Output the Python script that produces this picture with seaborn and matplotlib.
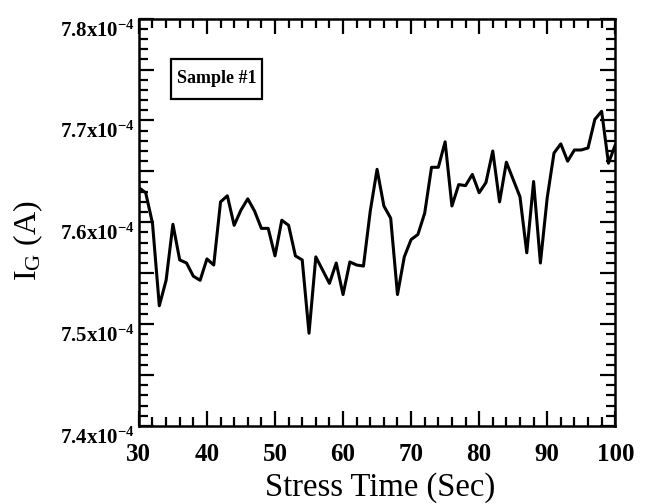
import numpy as np
import pandas as pd
import matplotlib
matplotlib.use("Agg")
import matplotlib.pyplot as plt
import matplotlib.transforms as mtransforms
from matplotlib.ticker import MultipleLocator, FuncFormatter
from matplotlib.patches import Rectangle
import seaborn as sns

# ---- data (current in units of 1e-4 A) ----
stress_time = list(range(30, 101))
current_e4 = [
    7.634, 7.629, 7.599, 7.518, 7.543, 7.598, 7.563, 7.560, 7.547, 7.543,
    7.564, 7.558, 7.620, 7.626, 7.597, 7.612, 7.623, 7.611, 7.594, 7.594,
    7.567, 7.602, 7.597, 7.567, 7.563, 7.491, 7.566, 7.553, 7.540, 7.560,
    7.529, 7.561, 7.558, 7.557, 7.611, 7.652, 7.616, 7.604, 7.529, 7.566,
    7.583, 7.588, 7.609, 7.654, 7.654, 7.679, 7.616, 7.637, 7.636, 7.647,
    7.629, 7.639, 7.670, 7.620, 7.659, 7.642, 7.625, 7.570, 7.640, 7.560,
    7.624, 7.668, 7.677, 7.660, 7.671, 7.671, 7.673, 7.701, 7.709, 7.658,
    7.676,
]
x_ticks = [30, 40, 50, 60, 70, 80, 90, 100]
y_labels_at = [7.4, 7.5, 7.6, 7.7, 7.8]
sample_label = "Sample #1"

df = pd.DataFrame({"t": stress_time, "i": current_e4})

sns.set_style("ticks")
plt.rcParams["font.family"] = ["Liberation Serif", "DejaVu Serif"]
plt.rcParams["mathtext.fontset"] = "custom"
plt.rcParams["mathtext.rm"] = "Liberation Serif:bold"
plt.rcParams["mathtext.it"] = "Liberation Serif:italic"
plt.rcParams["mathtext.bf"] = "Liberation Serif:bold"

fig = plt.figure(figsize=(6.49, 5.04), dpi=100)
ax = fig.add_axes([0.214, 0.155, 0.734, 0.808])

sns.lineplot(data=df, x="t", y="i", ax=ax, color="black", linewidth=2.2)

ax.set_xlim(30, 100)
ax.set_ylim(7.4, 7.8)
ax.set_xticks(x_ticks)
ax.xaxis.set_minor_locator(MultipleLocator(2))
ax.yaxis.set_major_locator(MultipleLocator(0.05))
ax.yaxis.set_minor_locator(MultipleLocator(0.01))


def yfmt(v, pos):
    for lv in y_labels_at:
        if abs(v - lv) < 1e-6:
            return r"%.1fx10$^{-4}$" % lv
    return ""


ax.yaxis.set_major_formatter(FuncFormatter(yfmt))

for s in ax.spines.values():
    s.set_linewidth(1.8)
    s.set_color("black")

ax.tick_params(which="both", direction="in", top=True, right=True,
               color="black", width=1.6)
ax.tick_params(which="major", length=11)
ax.tick_params(which="minor", length=6.5)
ax.tick_params(axis="x", which="major", pad=12, labelsize=18)
ax.tick_params(axis="y", which="major", pad=3, labelsize=15)

for lab in ax.get_xticklabels() + ax.get_yticklabels():
    lab.set_color("black")
    lab.set_fontweight("bold")

offset = mtransforms.ScaledTranslation(0, -7 / 72, fig.dpi_scale_trans)
for lab in ax.get_yticklabels():
    lab.set_transform(lab.get_transform() + offset)

ax.set_xlabel("Stress Time (Sec)", fontsize=23.5, color="black")
ax.set_ylabel(r"I$_{\mathregular{G}}$ (A)", fontsize=23, color="black")
ax.xaxis.set_label_coords(0.507, -0.113)
ax.yaxis.set_label_coords(-0.198, 0.455)

# sample annotation box
ax.add_patch(Rectangle((0.067, 0.803), 0.191, 0.099, transform=ax.transAxes,
                       fill=False, edgecolor="black", linewidth=1.6))
ax.text(0.1625, 0.8525, sample_label, transform=ax.transAxes, ha="center",
        va="center", fontsize=13, fontweight="bold", color="black")

fig.savefig("out.png", dpi=100)
